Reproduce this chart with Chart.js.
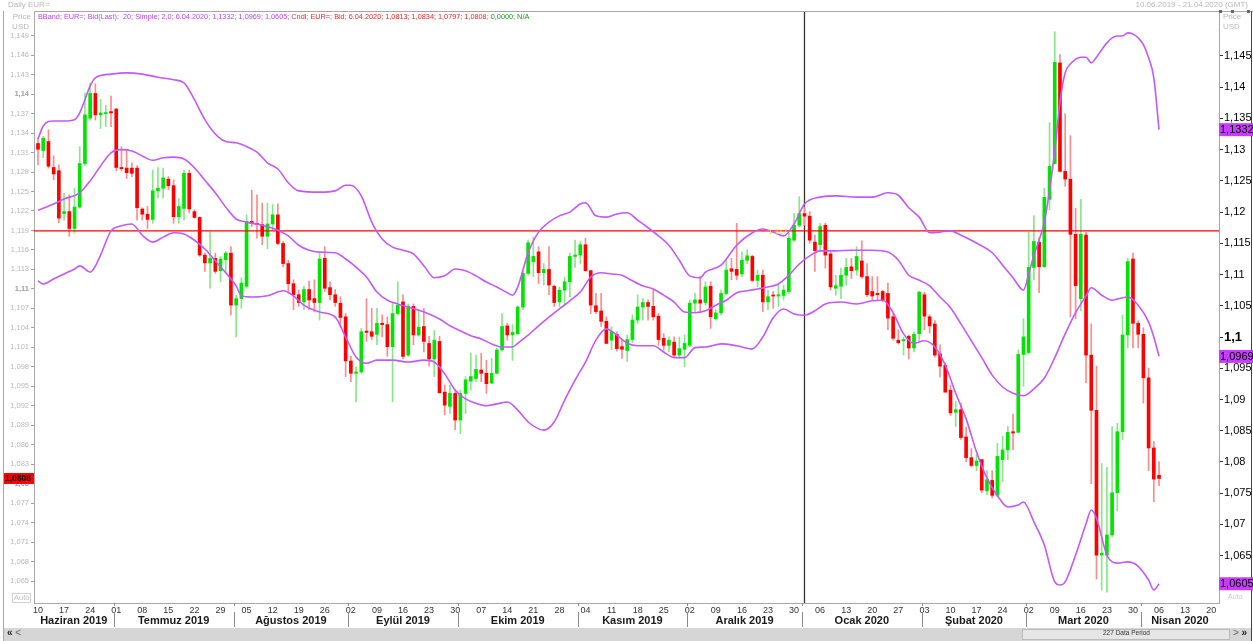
<!DOCTYPE html>
<html><head><meta charset="utf-8">
<script src="https://cdn.jsdelivr.net/npm/chart.js@4.4.1/dist/chart.umd.min.js"></script>
<style>
html,body{margin:0;padding:0;background:#fff;}
#wrap{position:relative;width:1253px;height:641px;overflow:hidden;font-family:"Liberation Sans",Arial,sans-serif;}
canvas{position:absolute;left:0;top:0;}
.t{position:absolute;white-space:nowrap;line-height:1;}
</style></head><body>
<div id="wrap">
<canvas id="c" width="1253" height="641"></canvas>
<div class="t" style="left:8px;top:1px;font-size:8px;color:#b8b8b8">Daily EUR=</div>
<div class="t" style="right:5px;top:1px;font-size:8px;color:#b8b8b8">10.06.2019 - 21.04.2020 (GMT)</div>
<div class="t" style="left:38px;top:13px;font-size:7.3px;"><span style="color:#c040ff">BBand; EUR=; Bid(Last);&nbsp; 20; Simple; 2,0; 6.04.2020; 1,1332; 1,0969; 1,0605;</span> <span style="color:#ff2020">Cndl; EUR=; Bid; 6.04.2020; 1,0813; 1,0834; 1,0797; 1,0808;</span> <span style="color:#11a011">0,0000; N/A</span></div>
<div class="t" style="right:1222px;top:13px;font-size:8px;color:#b8b8b8;text-align:right">Price</div>
<div class="t" style="right:1224px;top:23px;font-size:8px;color:#b8b8b8">USD</div>
<div class="t" style="left:1223px;top:13px;font-size:8px;color:#b8b8b8">Price</div>
<div class="t" style="left:1223px;top:23px;font-size:8px;color:#b8b8b8">USD</div>
<div class="t" style="left:12px;top:593px;font-size:7.5px;color:#c0c0c0;border:1px solid #d0d0d0;padding:0 1px">Auto</div>
<div class="t" style="left:1228px;top:593px;font-size:7px;color:#c8c8c8">Auto</div>
<div class="t" style="left:1103px;top:630px;font-size:6.5px;color:#333">227 Data Period</div>
<div class="t" style="left:7px;top:628px;font-size:10px;color:#222;font-weight:bold">« <span style="font-weight:normal;color:#666">&lt;</span></div>
<div class="t" style="left:1233px;top:628px;font-size:10px;color:#222;font-weight:bold"><span style="font-weight:normal;color:#666">&gt;</span> »</div>
</div>
<script>
// ---------- DATA ----------
const candleOpen = [
1.1324,1.1313,1.1327,1.1287,1.1282,1.1216,1.1219,1.1193,1.1226,1.1293,
1.1363,1.1401,1.1368,1.1370,1.1373,1.1377,1.1287,1.1286,1.1286,1.1286,
1.1223,1.1215,1.1207,1.1251,1.1255,1.1269,1.1259,1.1211,1.1224,1.1278,
1.1219,1.1210,1.1152,1.1140,1.1147,1.1128,1.1145,1.1155,1.1075,1.1085,
1.1104,1.1204,1.1201,1.1199,1.1181,1.1200,1.1214,1.1170,1.1139,1.1108,
1.1091,1.1080,1.1099,1.1085,1.1079,1.1147,1.1102,1.1091,1.1078,1.1057,
1.0989,1.0970,1.0972,1.1035,1.1034,1.1030,1.1047,1.1045,1.1011,1.1062,
1.1080,1.0998,1.1073,1.1029,1.1042,1.1016,1.0992,1.1019,1.0941,1.0919,
1.0939,1.0898,1.0939,1.0958,1.0962,1.0975,1.0970,1.0955,1.0970,1.1006,
1.1043,1.1029,1.1031,1.1072,1.1124,1.1142,1.1157,1.1125,1.1130,1.1104,
1.1080,1.1098,1.1111,1.1150,1.1152,1.1168,1.1128,1.1074,1.1066,1.1050,
1.1021,1.1030,1.1011,1.1005,1.1022,1.1052,1.1072,1.1079,1.1073,1.1058,
1.1024,1.1013,1.1018,1.0998,1.1007,1.1013,1.1078,1.1083,1.1079,1.1104,
1.1054,1.1063,1.1093,1.1131,1.1130,1.1123,1.1144,1.1150,1.1113,1.1121,
1.1080,1.1090,1.1089,1.1090,1.1096,1.1175,1.1198,1.1216,1.1212,1.1172,
1.1168,1.1198,1.1154,1.1101,1.1104,1.1121,1.1134,1.1129,1.1143,1.1119,
1.1096,1.1093,1.1096,1.1093,1.1057,1.1021,1.1020,1.1027,1.1009,1.1031,
1.1091,1.1057,1.1046,1.1000,1.0982,1.0944,1.0910,1.0914,1.0872,1.0840,
1.0828,1.0837,1.0789,1.0805,1.0782,1.0837,1.0852,1.0880,1.0879,1.0999,
1.1002,1.1133,1.1172,1.1134,1.1238,1.1293,1.1448,1.1281,1.1269,1.1184,
1.1085,1.1183,1.0998,1.0913,1.0690,1.0690,1.0721,1.0786,1.0880,1.1029,
1.1146,1.1047,1.1030,1.0963,1.0855,1.0813];
const candleHigh = [
1.1332,1.1335,1.1345,1.1305,1.1291,1.1247,1.1245,1.1255,1.1319,1.1402,
1.1417,1.1416,1.1392,1.1383,1.1397,1.1378,1.1319,1.1314,1.1294,1.1290,
1.1225,1.1227,1.1283,1.1287,1.1286,1.1273,1.1268,1.1239,1.1283,1.1283,
1.1222,1.1211,1.1155,1.1188,1.1155,1.1150,1.1158,1.1165,1.1090,1.1117,
1.1214,1.1252,1.1245,1.1232,1.1232,1.1230,1.1231,1.1173,1.1144,1.1114,
1.1098,1.1104,1.1112,1.1114,1.1155,1.1165,1.1111,1.1099,1.1088,1.1062,
1.0996,1.0980,1.1039,1.1085,1.1070,1.1070,1.1060,1.1057,1.1078,1.1111,
1.1091,1.1077,1.1077,1.1068,1.1070,1.1027,1.1036,1.1027,1.0952,1.0952,
1.0942,1.0944,1.0965,1.1001,1.0998,1.1001,1.0990,1.0993,1.1009,1.1062,
1.1047,1.1045,1.1074,1.1127,1.1175,1.1180,1.1165,1.1139,1.1165,1.1106,
1.1103,1.1118,1.1155,1.1175,1.1173,1.1178,1.1129,1.1093,1.1093,1.1057,
1.1042,1.1034,1.1021,1.1029,1.1060,1.1091,1.1085,1.1083,1.1098,1.1062,
1.1031,1.1026,1.1026,1.1026,1.1029,1.1083,1.1093,1.1119,1.1111,1.1111,
1.1068,1.1098,1.1145,1.1147,1.1201,1.1157,1.1160,1.1152,1.1129,1.1129,
1.1098,1.1096,1.1106,1.1106,1.1186,1.1216,1.1242,1.1226,1.1219,1.1183,
1.1201,1.1201,1.1157,1.1121,1.1132,1.1147,1.1147,1.1165,1.1174,1.1139,
1.1119,1.1119,1.1098,1.1109,1.1062,1.1037,1.1026,1.1029,1.1034,1.1096,
1.1095,1.1060,1.1051,1.1014,1.0986,1.0952,1.0927,1.0924,1.0887,1.0854,
1.0845,1.0837,1.0820,1.0820,1.0862,1.0873,1.0888,1.0907,1.1006,1.1054,
1.1187,1.1213,1.1179,1.1255,1.1356,1.1496,1.1461,1.1370,1.1336,1.1224,
1.1238,1.1187,1.1046,1.0981,1.0831,1.0825,1.0888,1.0893,1.1060,1.1147,
1.1155,1.1051,1.1040,1.0978,1.0865,1.0834];
const candleLow = [
1.1291,1.1302,1.1286,1.1268,1.1202,1.1206,1.1181,1.1186,1.1224,1.1290,
1.1360,1.1360,1.1347,1.1350,1.1350,1.1282,1.1282,1.1270,1.1273,1.1206,
1.1206,1.1193,1.1201,1.1240,1.1240,1.1253,1.1201,1.1201,1.1206,1.1217,
1.1209,1.1150,1.1127,1.1101,1.1124,1.1111,1.1124,1.1060,1.1026,1.1070,
1.1101,1.1196,1.1178,1.1168,1.1162,1.1190,1.1168,1.1134,1.1093,1.1068,
1.1073,1.1068,1.1068,1.1065,1.1052,1.1096,1.1083,1.1073,1.1042,1.0965,
1.0957,1.0926,1.0970,1.1019,1.1022,1.1014,1.1026,1.0996,1.0926,1.1060,
1.0992,1.0996,1.1014,1.1027,1.1003,1.0981,1.0965,1.0939,1.0906,1.0908,
1.0883,1.0877,1.0908,1.0944,1.0957,1.0957,1.0939,1.0954,1.0969,1.1004,
1.1021,1.0990,1.1030,1.1068,1.1121,1.1119,1.1108,1.1106,1.1091,1.1073,
1.1073,1.1075,1.1088,1.1133,1.1139,1.1127,1.1062,1.1062,1.1042,1.1016,
1.1006,1.1004,1.0993,1.0988,1.1017,1.1047,1.1052,1.1052,1.1052,1.1013,
1.1006,1.1003,1.0995,1.0993,1.0980,1.1011,1.1065,1.1065,1.1075,1.1039,
1.1052,1.1060,1.1091,1.1114,1.1114,1.1119,1.1139,1.1111,1.1103,1.1065,
1.1068,1.1070,1.1073,1.1083,1.1093,1.1173,1.1195,1.1198,1.1170,1.1127,
1.1157,1.1132,1.1098,1.1090,1.1085,1.1106,1.1116,1.1121,1.1116,1.1088,
1.1083,1.1083,1.1080,1.1037,1.1021,1.1015,1.0998,1.0992,1.1003,1.1020,
1.1037,1.1032,1.0995,1.0964,1.0941,1.0905,1.0888,1.0868,1.0834,1.0826,
1.0820,1.0786,1.0783,1.0778,1.0780,1.0803,1.0837,1.0852,1.0879,1.0950,
1.1000,1.1114,1.1094,1.1133,1.1222,1.1292,1.1280,1.1258,1.1057,1.1054,
1.1066,1.0955,1.0800,1.0653,1.0636,1.0633,1.0718,1.0758,1.0868,1.1009,
1.1009,1.1009,1.0924,1.0820,1.0772,1.0797];
const candleClose = [
1.1315,1.1332,1.1289,1.1277,1.1209,1.1219,1.1193,1.1226,1.1293,1.1368,
1.1401,1.1368,1.1371,1.1371,1.1371,1.1287,1.1285,1.1279,1.1278,1.1225,
1.1215,1.1207,1.1251,1.1255,1.1271,1.1259,1.1211,1.1227,1.1278,1.1223,
1.1210,1.1152,1.1140,1.1147,1.1127,1.1146,1.1155,1.1075,1.1085,1.1109,
1.1204,1.1201,1.1199,1.1181,1.1200,1.1214,1.1170,1.1139,1.1108,1.1091,
1.1079,1.1099,1.1083,1.1079,1.1146,1.1101,1.1091,1.1079,1.1056,1.0989,
1.0970,1.0972,1.1034,1.1033,1.1027,1.1047,1.1045,1.1011,1.1062,1.1075,
1.0996,1.1073,1.1029,1.1041,1.1019,1.0992,1.1021,1.0940,1.0921,1.0939,
1.0898,1.0939,1.0960,1.0965,1.0976,1.0970,1.0954,1.0970,1.1006,1.1042,
1.1029,1.1033,1.1072,1.1124,1.1171,1.1150,1.1125,1.1130,1.1106,1.1079,
1.1098,1.1111,1.1150,1.1152,1.1168,1.1128,1.1075,1.1065,1.1050,1.1016,
1.1034,1.1008,1.1007,1.1022,1.1052,1.1072,1.1079,1.1073,1.1057,1.1022,
1.1013,1.1021,1.0998,1.1008,1.1016,1.1078,1.1083,1.1078,1.1103,1.1057,
1.1063,1.1093,1.1129,1.1127,1.1121,1.1144,1.1151,1.1113,1.1121,1.1080,
1.1088,1.1089,1.1091,1.1098,1.1178,1.1198,1.1216,1.1212,1.1175,1.1159,
1.1196,1.1152,1.1103,1.1105,1.1121,1.1133,1.1128,1.1150,1.1119,1.1091,
1.1089,1.1091,1.1083,1.1055,1.1024,1.1017,1.1022,1.1009,1.1030,1.1095,
1.1058,1.1043,1.0998,1.0981,1.0941,1.0909,1.0914,1.0871,1.0840,1.0828,
1.0835,1.0790,1.0806,1.0782,1.0842,1.0852,1.0879,1.0878,1.0999,1.1026,
1.1133,1.1173,1.1134,1.1241,1.1289,1.1449,1.1281,1.1269,1.1184,1.1105,
1.1184,1.0998,1.0913,1.0690,1.0693,1.0721,1.0786,1.0880,1.1029,1.1142,
1.1047,1.1030,1.0963,1.0855,1.0807,1.0808];

// Bollinger band values: [day index, value]
const bandUpper = [[0,1.1317],[1,1.1338],[3,1.1346],[5,1.1346],[7,1.1348],[8,1.1359],[9,1.1380],[10,1.1402],[11,1.1415],[14,1.1421],[17,1.1423],[20,1.1421],[23,1.1416],[26,1.1412],[28,1.1407],[30,1.1380],[32,1.1348],[34,1.1325],[36,1.1313],[38,1.1311],[40,1.1305],[42,1.1296],[44,1.1279],[46,1.1269],[48,1.1247],[50,1.1234],[54,1.1232],[57,1.1234],[59,1.1243],[60,1.1243],[62,1.1226],[64,1.1184],[66,1.1157],[68,1.1144],[70,1.1139],[72,1.1133],[74,1.1114],[76,1.1095],[78,1.1098],[80,1.1109],[82,1.1106],[84,1.1098],[86,1.1088],[88,1.1080],[90,1.1071],[91,1.1067],[92,1.1080],[94,1.1135],[96,1.1168],[98,1.1184],[100,1.1194],[102,1.1200],[104,1.1213],[105,1.1215],[107,1.1194],[109,1.1192],[111,1.1197],[113,1.1199],[115,1.1187],[117,1.1175],[119,1.1162],[121,1.1147],[123,1.1123],[125,1.1098],[127,1.1095],[128,1.1104],[131,1.1115],[134,1.1147],[137,1.1167],[139,1.1173],[141,1.1168],[143,1.1162],[145,1.1181],[147,1.1213],[150,1.1224],[153,1.1226],[157,1.1224],[160,1.1224],[163,1.1231],[165,1.1227],[167,1.1207],[169,1.1192],[171,1.1167],[173,1.1168],[175,1.1170],[177,1.1163],[179,1.1155],[181,1.1146],[183,1.1135],[185,1.1115],[187,1.1095],[189,1.1075],[190,1.1101],[191,1.1131],[192,1.1155],[193,1.1184],[194,1.1235],[195,1.1299],[196,1.1376],[197,1.1423],[198,1.1437],[200,1.1448],[201,1.1448],[202,1.1439],[203,1.1448],[204,1.1460],[205,1.1471],[206,1.1479],[207,1.1482],[208,1.1482],[209,1.1487],[210,1.1485],[211,1.1479],[212,1.1468],[213,1.1447],[214,1.1415],[215,1.1332]];
const bandMiddle = [[0,1.1203],[3,1.1213],[5,1.1221],[8,1.1231],[10,1.1250],[12,1.1274],[14,1.1295],[16,1.1300],[18,1.1298],[20,1.1290],[22,1.1283],[24,1.1287],[26,1.1288],[28,1.1285],[30,1.1271],[32,1.1251],[34,1.1231],[36,1.1208],[38,1.1189],[40,1.1184],[43,1.1179],[46,1.1171],[48,1.1162],[50,1.1147],[52,1.1139],[54,1.1136],[57,1.1135],[59,1.1125],[61,1.1112],[63,1.1096],[65,1.1072],[67,1.1059],[69,1.1053],[71,1.1048],[73,1.1043],[75,1.1037],[77,1.1029],[79,1.1018],[81,1.1010],[83,1.1002],[85,1.0997],[87,1.0989],[89,1.0984],[91,1.0984],[92,1.0990],[94,1.1003],[96,1.1018],[98,1.1032],[100,1.1045],[102,1.1058],[104,1.1072],[106,1.1096],[108,1.1103],[110,1.1101],[112,1.1099],[114,1.1090],[116,1.1082],[118,1.1077],[120,1.1067],[122,1.1056],[124,1.1040],[126,1.1039],[128,1.1042],[130,1.1051],[132,1.1059],[134,1.1071],[136,1.1074],[138,1.1077],[140,1.1080],[142,1.1085],[144,1.1099],[146,1.1117],[148,1.1130],[150,1.1138],[153,1.1138],[156,1.1139],[160,1.1139],[163,1.1136],[165,1.1123],[167,1.1099],[169,1.1091],[171,1.1082],[173,1.1064],[175,1.1047],[177,1.1021],[179,1.0994],[181,1.0967],[183,1.0939],[185,1.0920],[187,1.0910],[189,1.0906],[191,1.0917],[193,1.0934],[195,1.0967],[197,1.1005],[199,1.1039],[201,1.1066],[202,1.1079],[204,1.1067],[206,1.1059],[208,1.1063],[209,1.1064],[211,1.1051],[213,1.1024],[214,1.1000],[215,1.0969]];
const bandLower = [[0,1.1090],[1,1.1085],[3,1.1093],[5,1.1101],[7,1.1109],[8,1.1114],[10,1.1104],[12,1.1131],[13,1.1152],[14,1.1170],[16,1.1178],[18,1.1181],[20,1.1163],[22,1.1152],[24,1.1160],[26,1.1167],[28,1.1165],[30,1.1155],[32,1.1141],[34,1.1122],[36,1.1103],[38,1.1082],[39,1.1066],[41,1.1064],[44,1.1066],[47,1.1074],[49,1.1066],[51,1.1051],[54,1.1040],[57,1.1032],[59,1.1000],[61,1.0968],[63,1.0958],[65,1.0963],[68,1.0963],[71,1.0960],[74,1.0963],[76,1.0960],[78,1.0941],[80,1.0915],[82,1.0901],[84,1.0894],[86,1.0890],[88,1.0893],[90,1.0896],[92,1.0883],[94,1.0864],[96,1.0853],[97,1.0851],[99,1.0864],[101,1.0899],[103,1.0931],[105,1.0960],[107,1.0995],[109,1.1013],[111,1.1003],[113,1.0990],[115,1.0986],[118,1.0986],[120,1.0976],[122,1.0967],[124,1.0967],[126,1.0983],[128,1.0984],[131,1.0989],[134,1.0986],[137,1.0981],[139,1.1000],[141,1.1031],[143,1.1045],[145,1.1037],[147,1.1035],[149,1.1042],[151,1.1053],[154,1.1056],[157,1.1053],[160,1.1058],[162,1.1059],[164,1.1039],[166,1.1005],[168,1.0990],[170,1.0994],[172,1.0984],[174,1.0955],[176,1.0910],[178,1.0869],[180,1.0816],[182,1.0774],[184,1.0746],[186,1.0728],[188,1.0731],[189,1.0736],[191,1.0704],[193,1.0667],[195,1.0608],[196,1.0603],[197,1.0608],[199,1.0651],[201,1.0701],[202,1.0723],[203,1.0710],[205,1.0651],[207,1.0638],[209,1.0640],[211,1.0633],[213,1.0611],[214,1.0595],[215,1.0605]];

const levelLine = 1.117;
const yearBoundaryIdx = 147;
const dayLabels = ["10","17","24","01","08","15","22","29","05","12","19","26","02","09","16","23","30","07","14","21","28","04","11","18","25","02","09","16","23","30","06","13","20","27","03","10","17","24","02","09","16","23","30","06","13","20"];
const monthNames = ["Haziran 2019","Temmuz 2019","Ağustos 2019","Eylül 2019","Ekim 2019","Kasım 2019","Aralık 2019","Ocak 2020","Şubat 2020","Mart 2020","Nisan 2020"];
const monthStartIdx = [0,15,38,60,81,104,125,147,170,190,212];
const periodCount = 227;
const leftTickValues = [1.149,1.146,1.143,1.14,1.137,1.134,1.131,1.128,1.125,1.122,1.119,1.116,1.113,1.11,1.107,1.104,1.101,1.098,1.095,1.092,1.089,1.086,1.083,1.08,1.077,1.074,1.071,1.068,1.065];
const rightTickValues = [1.145,1.14,1.135,1.13,1.125,1.12,1.115,1.11,1.105,1.1,1.095,1.09,1.085,1.08,1.075,1.07,1.065];

// ---------- BUILD ----------
const fmt = v => String(+(+v).toFixed(4)).replace('.', ',');
const tickVal = ctx => (ctx && ctx.tick) ? ctx.tick.value : 0;
const n = candleClose.length;
const bodies = [], wicks = [], bodyCol = [], wickCol = [];
for (let i = 0; i < n; i++) {
  bodies.push({x: i, y: [candleOpen[i], candleClose[i]]});
  wicks.push({x: i, y: [candleLow[i], candleHigh[i]]});
  const up = candleClose[i] >= candleOpen[i];
  bodyCol.push(up ? '#00e400' : '#ff0000');
  wickCol.push(up ? '#86e886' : '#ff8a8a');
}
const toPts = arr => arr.map(p => ({x: p[0], y: p[1]}));
const mondayIdx = dayLabels.map((d, k) => k * 5);
const BAND = '#c458ff';

const deco = {
  id: 'deco',
  beforeDatasetsDraw(chart) {
    const {ctx, chartArea: a, scales} = chart;
    const x = scales.x.getPixelForValue(yearBoundaryIdx);
    ctx.save();
    ctx.strokeStyle = '#333'; ctx.lineWidth = 1.3;
    ctx.beginPath(); ctx.moveTo(x, a.top); ctx.lineTo(x, a.bottom); ctx.stroke();
    ctx.restore();
  },
  afterDraw(chart) {
    const {ctx, chartArea: a, scales} = chart;
    const xs = scales.x, yl = scales.y, yr = scales.y2;
    ctx.save();
    ctx.strokeStyle = '#a8a8a8'; ctx.lineWidth = 1;
    ctx.beginPath(); ctx.moveTo(a.left, a.top + 0.5); ctx.lineTo(1253, a.top + 0.5); ctx.stroke();
    ctx.beginPath(); ctx.moveTo(3.5, a.top); ctx.lineTo(3.5, 641); ctx.stroke();
    ctx.strokeStyle = '#444';
    ctx.beginPath(); ctx.moveTo(1251.5, a.top); ctx.lineTo(1251.5, 641); ctx.stroke();
    ctx.fillStyle = '#666';
    [1219, 1231, 1247].forEach(px => ctx.fillRect(px, a.top - 1, 3, 3));
    ctx.fillStyle = '#f2e35a'; ctx.font = '8px "Liberation Sans"';
    ctx.textBaseline = 'middle'; ctx.textAlign = 'left';
    ctx.fillText(fmt(levelLine), xs.getPixelForValue(140), yr.getPixelForValue(levelLine) + 1);
    const bounds = monthStartIdx.map(i => i === 0 ? xs.min : i - 0.5).concat([xs.max]);
    ctx.strokeStyle = '#8a8a8a';
    for (let k = 1; k < monthStartIdx.length; k++) {
      const px = Math.round(xs.getPixelForValue(bounds[k])) + 0.5;
      ctx.beginPath(); ctx.moveTo(px, 612); ctx.lineTo(px, 627); ctx.stroke();
      ctx.beginPath(); ctx.moveTo(px, a.bottom); ctx.lineTo(px, a.bottom + 3); ctx.stroke();
    }
    ctx.fillStyle = '#1a1a1a'; ctx.font = 'bold 11px "Liberation Sans"'; ctx.textAlign = 'center';
    for (let k = 0; k < monthNames.length; k++) {
      const c = (xs.getPixelForValue(bounds[k]) + xs.getPixelForValue(bounds[k + 1])) / 2;
      ctx.fillText(monthNames[k], c, 621);
    }
    ctx.fillStyle = '#d6d6d6'; ctx.fillRect(4, 628, 1247, 13);
    ctx.fillStyle = '#e6e6e6'; ctx.fillRect(1022, 629, 208, 11);
    ctx.strokeStyle = '#bbb'; ctx.strokeRect(1022.5, 629.5, 207, 10);
    ctx.textAlign = 'left'; ctx.font = '11px "Liberation Sans"';
    [bandUpper, bandMiddle, bandLower].forEach(b => {
      const v = b[b.length - 1][1];
      const py = yr.getPixelForValue(v);
      ctx.fillStyle = '#c83cff'; ctx.fillRect(a.right, py - 6.5, 34, 13);
      ctx.fillStyle = '#000'; ctx.fillText(fmt(v), a.right + 1, py + 0.5);
    });
    const lc = candleClose[n - 1];
    const py = yl.getPixelForValue(lc);
    ctx.fillStyle = '#ff0000'; ctx.fillRect(4, py - 5.5, a.left - 4, 11);
    ctx.fillStyle = '#000'; ctx.font = 'bold 8.5px "Liberation Sans"';
    ctx.fillText(fmt(lc), 5, py + 0.5);
    ctx.restore();
  }
};

new Chart(document.getElementById('c'), {
  type: 'bar',
  data: {
    datasets: [
      {type: 'line', label: 'upper', data: toPts(bandUpper), yAxisID: 'y2', borderColor: BAND, borderWidth: 1.6, pointRadius: 0, tension: 0.4, cubicInterpolationMode: 'monotone', order: 0},
      {type: 'line', label: 'middle', data: toPts(bandMiddle), yAxisID: 'y2', borderColor: BAND, borderWidth: 1.6, pointRadius: 0, tension: 0.4, cubicInterpolationMode: 'monotone', order: 0},
      {type: 'line', label: 'lower', data: toPts(bandLower), yAxisID: 'y2', borderColor: BAND, borderWidth: 1.6, pointRadius: 0, tension: 0.4, cubicInterpolationMode: 'monotone', order: 0},
      {type: 'line', label: 'level', data: [{x: -0.77, y: levelLine}, {x: 226.5, y: levelLine}], yAxisID: 'y2', borderColor: '#ff0000', borderWidth: 1.4, pointRadius: 0, order: 1},
      {type: 'bar', label: 'body', data: bodies, yAxisID: 'y', backgroundColor: bodyCol, barThickness: 3, minBarLength: 1, grouped: false, order: 2},
      {type: 'bar', label: 'wick', data: wicks, yAxisID: 'y', backgroundColor: wickCol, barThickness: 1, grouped: false, order: 3}
    ]
  },
  options: {
    responsive: false, animation: false,
    layout: {padding: {top: 11, bottom: 13, left: 0, right: 0}},
    plugins: {legend: {display: false}, tooltip: {enabled: false}},
    events: [],
    scales: {
      x: {
        type: 'linear', min: -0.77, max: periodCount - 0.5, offset: false,
        grid: {display: false, drawTicks: false, tickLength: 0}, border: {display: true, color: '#a8a8a8'},
        afterBuildTicks: s => { s.ticks = mondayIdx.map(v => ({value: v})); },
        afterFit: s => { s.height = 25; },
        ticks: {autoSkip: false, maxRotation: 0, padding: 2, color: '#333',
          font: {family: 'Liberation Sans', size: 9},
          callback: (v, i) => dayLabels[i]}
      },
      y: {
        type: 'linear', position: 'left', min: 1.06162, max: 1.15280,
        afterBuildTicks: s => { s.ticks = leftTickValues.map(v => ({value: v})); },
        afterFit: s => { s.width = 34; },
        grid: {drawOnChartArea: false, tickLength: 3, color: '#a0a0a0'},
        border: {display: true, color: '#a8a8a8'},
        ticks: {padding: 2, autoSkip: false,
          color: ctx => fmt(tickVal(ctx)).length <= 4 ? '#a0a0a0' : '#b8b8b8',
          font: ctx => ({family: 'Liberation Sans', size: 7.5, weight: fmt(tickVal(ctx)).length <= 4 ? 'bold' : 'normal'}),
          callback: v => fmt(v)}
      },
      y2: {
        type: 'linear', position: 'right', min: 1.05742, max: 1.15220,
        afterBuildTicks: s => { s.ticks = rightTickValues.map(v => ({value: v})); },
        afterFit: s => { s.width = 34; },
        grid: {drawOnChartArea: false, tickLength: 4, color: '#333'},
        border: {display: true, color: '#a8a8a8'},
        ticks: {padding: 1, autoSkip: false, color: '#000',
          font: ctx => fmt(tickVal(ctx)).length <= 3 ? {family: 'Liberation Sans', size: 13, weight: 'bold'} : {family: 'Liberation Sans', size: 11},
          callback: v => fmt(v)}
      }
    }
  },
  plugins: [deco]
});
</script>
</body></html>
